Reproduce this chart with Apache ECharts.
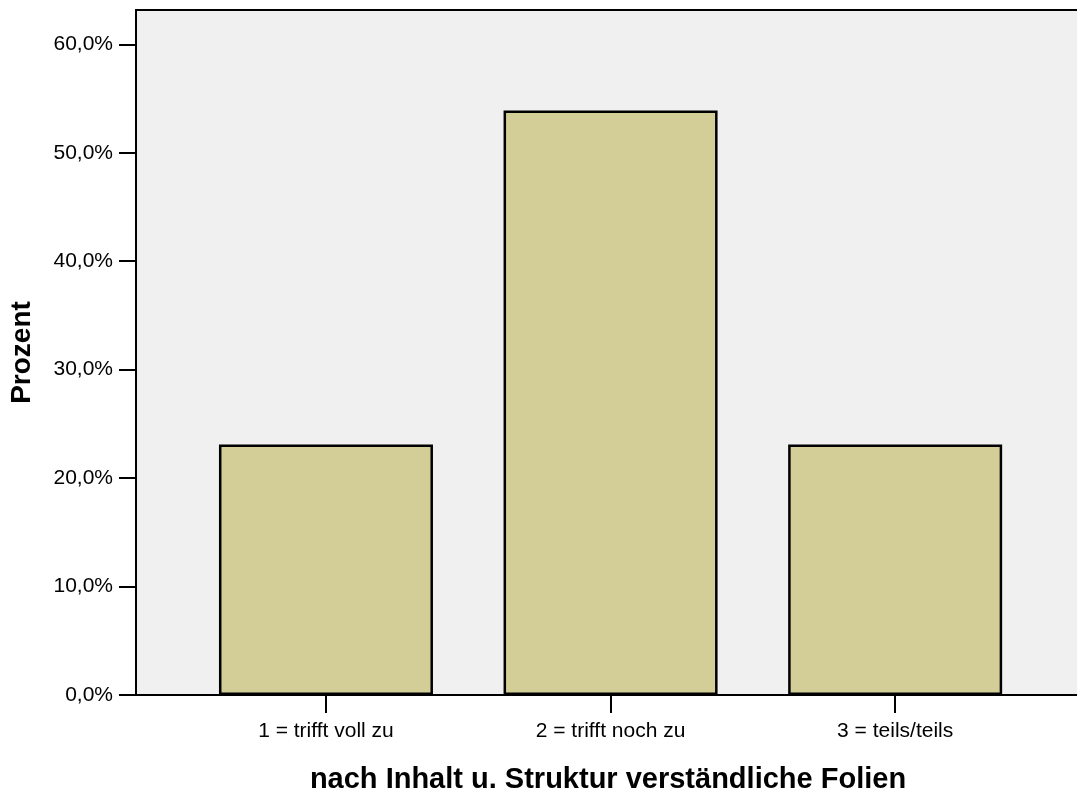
<!DOCTYPE html>
<html>
<head>
<meta charset="utf-8">
<script src="https://cdn.jsdelivr.net/npm/echarts@6/dist/echarts.min.js"></script>
<style>
html,body{margin:0;padding:0;background:#fff;}
#chart{width:1077px;height:794px;}
</style>
</head>
<body>
<div id="chart"></div>
<script>
const categories = ['1 = trifft voll zu', '2 = trifft noch zu', '3 = teils/teils'];
const percentValues = [23.1, 53.9, 23.1];
const yTicks = [0, 10, 20, 30, 40, 50, 60];
const xTitle = 'nach Inhalt u. Struktur verständliche Folien';
const yTitle = 'Prozent';

const FONT = '"Liberation Sans", Arial, Helvetica, sans-serif';
const chart = echarts.init(document.getElementById('chart'), null, {renderer: 'canvas'});

const seriesData = percentValues.map((v, i) => [i + 1, v]);
const catPositions = categories.map((c, i) => i + 1);

chart.setOption({
  animation: false,
  backgroundColor: '#ffffff',
  grid: {
    left: 136, right: -3, top: 10, bottom: 99,
    containLabel: false,
    outerBoundsMode: 'none',
    show: true,
    backgroundColor: '#f0f0f0',
    borderColor: '#000',
    borderWidth: 2
  },
  xAxis: {
    type: 'value',
    min: 0.3325,
    max: 3.6495,
    name: xTitle,
    nameLocation: 'middle',
    nameGap: 70,
    nameTextStyle: {fontFamily: FONT, fontSize: 29, fontWeight: 'bold', color: '#000'},
    axisLine: {show: true, lineStyle: {color: '#000', width: 2}},
    axisTick: {show: true, length: 18, lineStyle: {color: '#000', width: 2}, customValues: catPositions},
    axisLabel: {
      show: true, margin: 26, fontFamily: FONT, fontSize: 21, color: '#000',
      customValues: catPositions,
      formatter: v => categories[Math.round(v) - 1] || ''
    },
    splitLine: {show: false}
  },
  yAxis: {
    type: 'value',
    min: 0,
    max: 63.16,
    interval: 10,
    name: yTitle,
    nameLocation: 'middle',
    nameGap: 100,
    nameTextStyle: {fontFamily: FONT, fontSize: 28, fontWeight: 'bold', color: '#000'},
    axisLine: {show: true, lineStyle: {color: '#000', width: 2}},
    axisTick: {show: true, length: 17, lineStyle: {color: '#000', width: 2}, customValues: yTicks},
    axisLabel: {
      show: true, margin: 23, fontFamily: FONT, fontSize: 21, color: '#000',
      customValues: yTicks,
      formatter: v => v.toFixed(1).replace('.', ',') + '%'
    },
    splitLine: {show: false}
  },
  series: [{
    type: 'bar',
    data: seriesData,
    barWidth: 214,
    itemStyle: {color: '#d3ce98', borderColor: '#000', borderWidth: 2.5}
  }]
});
</script>
</body>
</html>
